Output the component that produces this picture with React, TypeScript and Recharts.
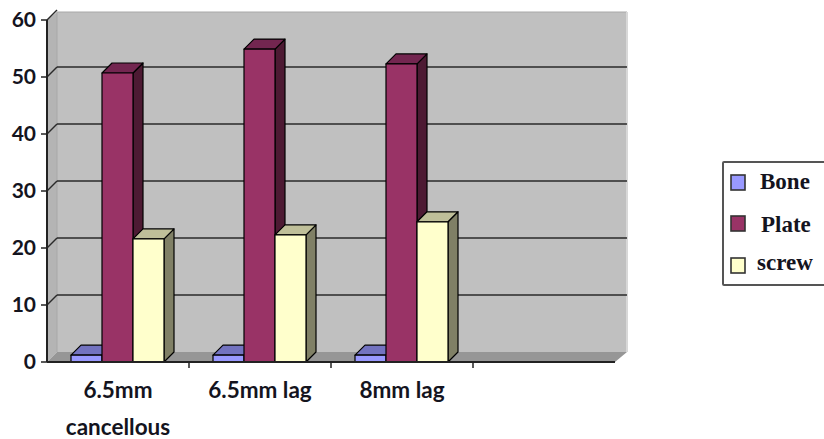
import { BarChart, Bar, XAxis, YAxis, CartesianGrid } from 'recharts';

const categories = ['6.5mm cancellous', '6.5mm lag', '8mm lag', ''];
const bone = [1.2, 1.2, 1.2, null];
const plate = [50.7, 54.9, 52.3, null];
const screw = [21.6, 22.3, 24.6, null];
const yTicks = [0, 10, 20, 30, 40, 50, 60];

const data = categories.map((category, i) => ({
  category,
  Bone: bone[i],
  Plate: plate[i],
  screw: screw[i],
}));

// depth of the fake 3D box
const DX = 10;
const DY = 10;

const LEFT = 47;
const RIGHT = 615;
const TOP = 20;
const BOTTOM = 362;

const labelFont = 'Lato, sans-serif';
const textColor = '#14141e';

function Bar3D(props: any) {
  const { x, y, width, height, front, top, side } = props;
  if (!height) return null;
  const r = x + width;
  const b = y + height;
  return (
    <g stroke="#000" strokeWidth={1.2} strokeLinejoin="round">
      <polygon points={`${r},${y} ${r + DX},${y - DY} ${r + DX},${b - DY} ${r},${b}`} fill={side} />
      <polygon points={`${x},${y} ${x + DX},${y - DY} ${r + DX},${y - DY} ${r},${y}`} fill={top} />
      <rect x={x} y={y} width={width} height={height} fill={front} />
    </g>
  );
}

function GridLine(props: any) {
  const { x1, x2, y1 } = props;
  // the bottom line is the floor, the top one only has its short diagonal
  if (y1 >= BOTTOM - 1) return <g key={y1} />;
  const isTop = y1 <= TOP + 1;
  const y = y1 - DY;
  return (
    <g key={y1} fill="none" stroke="#2a2a2a" strokeWidth={1.5}>
      <polyline points={`${x1},${y1} ${x1 + DX},${y}`} />
      {!isTop && <line x1={x1 + DX} y1={y} x2={x2 + DX + 2} y2={y} />}
    </g>
  );
}

// grid layers sit under everything else, so the walls are drawn as a grid too
function Walls() {
  const backTop = TOP - 8;
  const backBottom = BOTTOM - DY;
  const backRight = RIGHT + 12;
  return (
    <g key="walls">
      <rect x={LEFT + DX} y={backTop} width={backRight - LEFT - DX} height={backBottom - backTop} fill="#c0c0c0" />
      <polygon points={`${LEFT},${TOP} ${LEFT + DX},${backTop} ${LEFT + DX},${backBottom} ${LEFT},${BOTTOM}`} fill="#b4b4b4" />
      <polygon points={`${LEFT},${BOTTOM} ${LEFT + DX},${backBottom} ${backRight},${backBottom} ${RIGHT},${BOTTOM}`} fill="#969696" />
      <line x1={LEFT + DX} y1={backTop} x2={backRight} y2={backTop} stroke="#a8a8a8" />
      <line x1={LEFT + DX} y1={backTop} x2={LEFT + DX} y2={backBottom} stroke="#a8a8a8" />
      <line x1={backRight} y1={backTop} x2={backRight} y2={backBottom} stroke="#d8d8d8" strokeWidth={2} />
    </g>
  );
}

function CategoryTick(props: any) {
  const { x, payload, index } = props;
  const words = String(payload.value) === '6.5mm cancellous' ? ['6.5mm', 'cancellous'] : [String(payload.value)];
  const band = (RIGHT - LEFT) / categories.length;
  return (
    <g>
      {index > 0 && <line x1={x - band / 2} y1={BOTTOM} x2={x - band / 2} y2={BOTTOM + 6} stroke="#222" strokeWidth={1.5} />}
      {words.map((w, i) => (
        <text key={w} x={x} y={398 + i * 37} textAnchor="middle" fontFamily={labelFont} fontWeight={700} fontSize={22.5} fill={textColor}>
          {w}
        </text>
      ))}
    </g>
  );
}

const legendItems = [
  { name: 'Bone', color: '#9999ff', top: 175, textX: 760, textY: 189 },
  { name: 'Plate', color: '#993366', top: 216, textX: 761, textY: 232 },
  { name: 'screw', color: '#ffffcc', top: 258, textX: 757, textY: 270 },
];

function ChartLegend() {
  return (
    <svg width={824} height={439} style={{ position: 'absolute', left: 0, top: 0, pointerEvents: 'none' }}>
      <rect x={723} y={162} width={110} height={123} rx={1} fill="#fff" stroke="#555" strokeWidth={2} />
      {legendItems.map((item) => (
        <g key={item.name}>
          <rect x={731} y={item.top} width={14} height={15} fill={item.color} stroke="#333" strokeWidth={1.6} />
          <text x={item.textX} y={item.textY} fontFamily="'Liberation Serif', serif" fontWeight={700} fontSize={23} fill={textColor}>
            {item.name}
          </text>
        </g>
      ))}
    </svg>
  );
}

export default function App() {
  return (
    <div style={{ position: 'absolute', left: 0, top: 0, width: 824, height: 439, overflow: 'hidden', background: '#fff' }}>
      <BarChart
        width={824}
        height={439}
        data={data}
        barCategoryGap={24}
        barGap={0}
        margin={{ top: TOP, right: 824 - RIGHT, bottom: 0, left: 0 }}
      >
        <CartesianGrid vertical={false} horizontalValues={[0]} horizontal={Walls} />
        <CartesianGrid vertical={false} horizontal={GridLine} />
        <XAxis
          dataKey="category"
          height={439 - BOTTOM}
          interval={0}
          tick={CategoryTick}
          tickLine={false}
          axisLine={{ stroke: '#222', strokeWidth: 2 }}
        />
        <YAxis
          width={LEFT}
          domain={[0, 60]}
          ticks={yTicks}
          tickSize={6}
          tickMargin={5}
          tick={{ fontFamily: labelFont, fontWeight: 700, fontSize: 21, fill: textColor }}
          tickLine={{ stroke: '#222', strokeWidth: 1.5 }}
          axisLine={{ stroke: '#222', strokeWidth: 2 }}
        />
        <Bar dataKey="Bone" isAnimationActive={false} shape={<Bar3D front="#9999ff" top="#7373c0" side="#4d4d80" />} />
        <Bar dataKey="Plate" isAnimationActive={false} shape={<Bar3D front="#993366" top="#732650" side="#4d1a33" />} />
        <Bar dataKey="screw" isAnimationActive={false} shape={<Bar3D front="#ffffcc" top="#bfbf99" side="#808066" />} />
      </BarChart>
      <ChartLegend />
    </div>
  );
}
